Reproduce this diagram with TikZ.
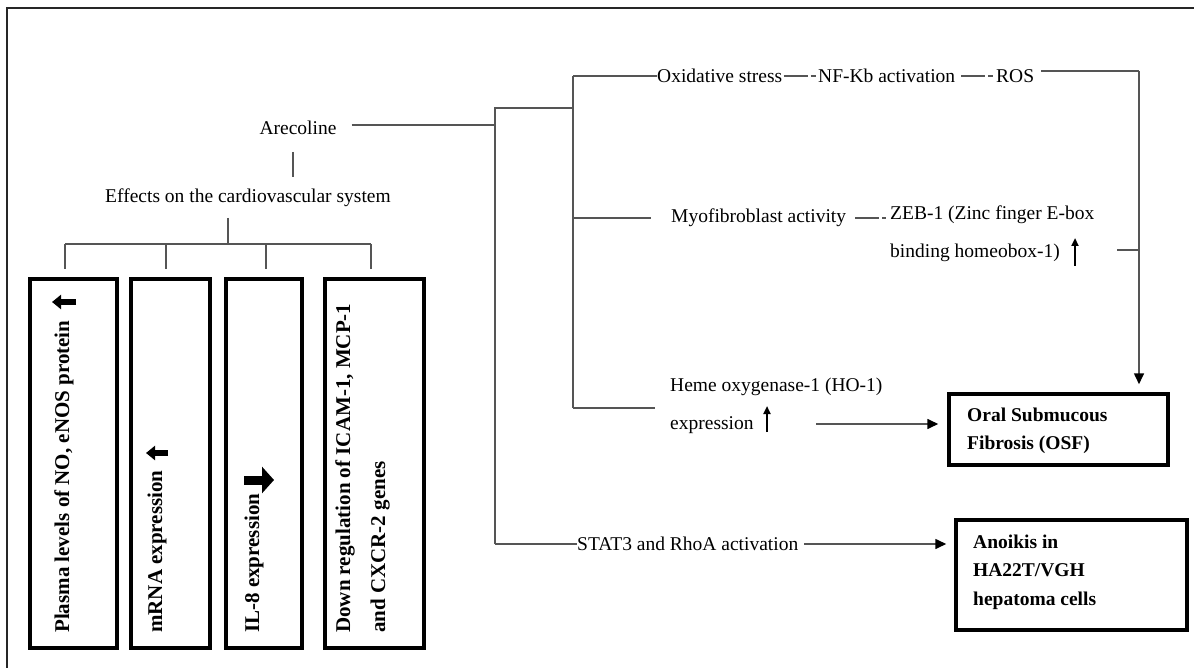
\documentclass[tikz,border=0pt]{standalone}
\usepackage{fontspec}
\setmainfont{Liberation Serif}
\usetikzlibrary{arrows.meta,calc}
\definecolor{lgray}{HTML}{555555}
\begin{document}
\begin{tikzpicture}[x=1pt,y=-1pt,
  ln/.style={draw=lgray,line width=1.6pt},
  arr/.style={ln,-{Triangle[width=10pt,length=11pt,color=black]}},
  gapdash/.style={ln,dash pattern=on 24pt off 3pt on 10pt},
  bx/.style={draw=black,line width=3.5pt,inner sep=0pt},
  txt/.style={font=\fontsize{19.5}{23}\selectfont,inner sep=0pt},
  btxt/.style={font=\fontsize{19.5}{28}\selectfont\bfseries,inner sep=0pt,align=left},
  vtxt/.style={font=\fontsize{21}{35}\selectfont\bfseries,inner sep=0pt,rotate=90,anchor=west,align=left},
  fat/.style={line width=6pt,-{Triangle[width=14pt,length=9pt]}},
  thin/.style={line width=2.2pt,-{Triangle[width=7pt,length=8pt]}}]
\useasboundingbox (0,0) rectangle (1194,668);
% outer frame
\draw[line width=2.4pt,draw=black!85] (7,668) -- (7,8) -- (1194,8);

% left part
\node[txt] (are) at (298,128) {Arecoline};
\node[txt] (eff) at (248,198) {Effects on the cardiovascular system};
\coordinate (s1) at (293,152);
\draw[ln] (s1) -- (s1 |- 0,177);

\node[bx,minimum width=87pt,minimum height=369pt] (b1) at (73.5,463.5) {};
\node[bx,minimum width=79pt,minimum height=369pt] (b2) at (170.5,463.5) {};
\node[bx,minimum width=76pt,minimum height=369pt] (b3) at (264,463.5) {};
\node[bx,minimum width=99pt,minimum height=369pt] (b4) at (374.5,463.5) {};

\node[vtxt] (t1) at (64,633) {Plasma levels of NO, eNOS protein};
\node[vtxt] (t2) at (157,633) {mRNA expression};
\node[vtxt] (t3) at (254,633) {IL-8 expression};
\node[vtxt] (t4) at (362.5,633) {Down regulation of ICAM-1, MCP-1\\and CXCR-2 genes};
\draw[fat] (76,302) -- (52,302);
\draw[fat] (168,453) -- (146,453);
\draw[line width=9pt,-{Triangle[width=26pt,length=12pt]}] (244,480) -- (274,480);

\coordinate (bt) at (228,244);
\draw[ln] (228,218) -- (bt);
\draw[ln] (65,244) -- (371,244);
\foreach \x/\b in {65/b1,166/b2,266/b3,371/b4}
  \draw[ln,shorten >=8pt] (\x,244) -- (\x,0 |- \b.north);

% right part
\coordinate (j1) at (495,125);
\coordinate (j1t) at (495,108);
\coordinate (j1b) at (495,544);
\coordinate (j2t) at (573,76);
\coordinate (j2m) at (573,108);
\coordinate (j2b) at (573,408);
\draw[ln] ($(are.east |- j1)+(15,0)$) -- (j1);
\draw[ln] (j1b) -- (j1t) -- (j2m);
\draw[ln] (j2t) -- (j2b);

\node[txt,anchor=west] (ox) at (657,76) {Oxidative stress};
\node[txt,anchor=west] (nf) at (818,76) {NF-Kb activation};
\node[txt,anchor=west] (ros) at (996,76) {ROS};
\draw[ln] (j2t) -- (ox.west);
\draw[gapdash] ($(ox.east)+(1,0)$) -- ($(nf.west)+(-2,0)$);
\draw[gapdash] ($(nf.east)+(6,0)$) -- ($(ros.west)+(-3,0)$);

\node[txt,anchor=west] (myo) at (671,218) {Myofibroblast activity};
\node[txt,anchor=west,align=left,font=\fontsize{19.5}{38}\selectfont] (zeb) at (890,234) {ZEB-1 (Zinc finger E-box\\binding homeobox-1)};
\draw[ln] (573,218) -- ($(myo.west)+(-20,0)$);
\draw[ln,dash pattern=on 24pt off 3pt on 8pt] ($(myo.east)+(9,0)$) -- ($(zeb.west |- myo.east)+(-4,0)$);
\draw[thin] (1075,266) -- (1075,238);

\node[txt,anchor=west,align=left,font=\fontsize{19.5}{38}\selectfont] (heme) at (670,406) {Heme oxygenase-1 (HO-1)\\expression};
\draw[thin] (767,432) -- (767,406);
\draw[ln] (j2b) -- ($(heme.west |- j2b)+(-15,0)$);

\node[bx,minimum width=219pt,minimum height=71pt] (osf) at (1058.5,429.5) {};
\node[btxt,anchor=west] (osft) at (967,431) {Oral Submucous\\Fibrosis (OSF)};

\node[bx,minimum width=231pt,minimum height=110pt] (ano) at (1071.5,575) {};
\node[btxt,anchor=west,font=\fontsize{19.5}{28.5}\selectfont\bfseries] (anot) at (973,572) {Anoikis in\\HA22T/VGH\\hepatoma cells};

\coordinate (c1) at (1139,71);
\coordinate (z1) at (1117,250);
\draw[ln] ($(ros.east |- c1)+(7,0)$) -- (c1);
\draw[arr,shorten >=8pt] (c1) -- (c1 |- osf.north);
\draw[ln] (z1) -- (c1 |- z1);

\coordinate (h1) at (816,424);
\draw[arr] (h1) -- ($(osf.west |- h1)+(-9,0)$);

\node[txt,anchor=west] (stat) at (577,544) {STAT3 and RhoA activation};
\draw[ln] (j1b) -- (stat.west);
\draw[arr] ($(stat.east)+(6,0)$) -- ($(ano.west |- stat.east)+(-8,0)$);
\end{tikzpicture}
\end{document}
